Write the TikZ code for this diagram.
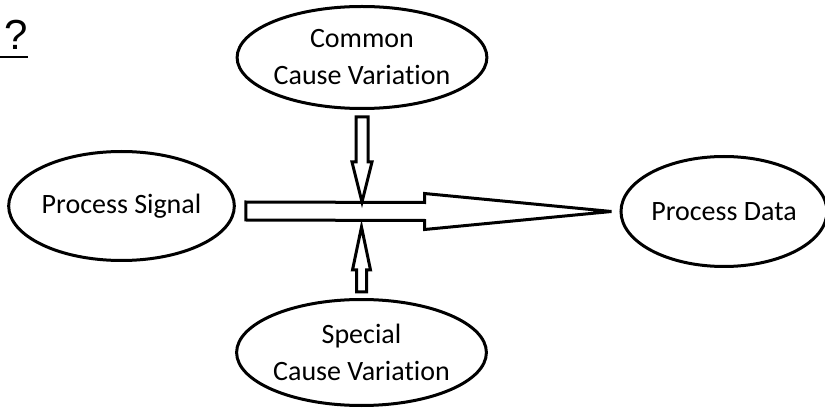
\documentclass[tikz,border=0pt]{standalone}
\usepackage{fontspec}
\setmainfont{Carlito}[Ligatures=NoCommon]
\newfontfamily\arialfont{Liberation Sans}
\usetikzlibrary{shapes.geometric,calc}

\begin{document}
\begin{tikzpicture}[x=1pt,y=-1pt,
  bubble/.style={draw,ellipse,line width=3pt,inner sep=0pt,align=center,
    font=\fontsize{28}{37}\selectfont},
  blockarrow/.style={draw,line width=3pt,line join=miter}]
\useasboundingbox (0,0) rectangle (825,414);

\node[anchor=base west,inner sep=0pt,font=\arialfont\fontsize{42}{42}\selectfont] (qmark) at (4,50) {?};
\coordinate (ul) at (0,57);
\draw[line width=2.6pt] (ul) -- (ul -| qmark.base east);

\node[bubble,minimum width=214pt,minimum height=109pt] (signal) at (121.5,206) {Process Signal};
\node[bubble,minimum width=206pt,minimum height=110pt] (data) at (724,211.5) {Process Data};
\node[bubble,minimum width=212pt,minimum height=102pt] (common) at (362,57.5) {Common\\Cause Variation};
\node[bubble,minimum width=214pt,minimum height=106pt] (special) at (361.5,352.5) {Special\\Cause Variation};

% main arrow
\coordinate (m0) at ($(signal.east)+(10,5)$);
\coordinate (m1) at ($(data.west)+(-8,0)$);
\draw[blockarrow] ($(m0)+(0,-9)$) -- ($(m1)+(-187,-9)$) -- ($(m1)+(-187,-18)$) -- (m1)
  -- ($(m1)+(-187,18)$) -- ($(m1)+(-187,9)$) -- ($(m0)+(0,9)$) -- cycle;

% down arrow
\coordinate (d0) at ($(common.south)+(0,7)$);
\coordinate (d1) at ($(m0 -| d0)+(0,-9)$);
\draw[blockarrow] ($(d0)+(-6,0)$) -- ($(d1)+(-6,-40)$) -- ($(d1)+(-10,-40)$) -- (d1)
  -- ($(d1)+(10,-40)$) -- ($(d1)+(6,-40)$) -- ($(d0)+(6,0)$) -- cycle;

% up arrow
\coordinate (u0) at ($(special.north)+(0,-6)$);
\coordinate (u1) at ($(m0 -| u0)+(0,16)$);
\draw[blockarrow] ($(u0)+(-5,0)$) -- ($(u1)+(-5,43)$) -- ($(u1)+(-9,43)$) -- (u1)
  -- ($(u1)+(9,43)$) -- ($(u1)+(5,43)$) -- ($(u0)+(5,0)$) -- cycle;

\end{tikzpicture}
\end{document}
